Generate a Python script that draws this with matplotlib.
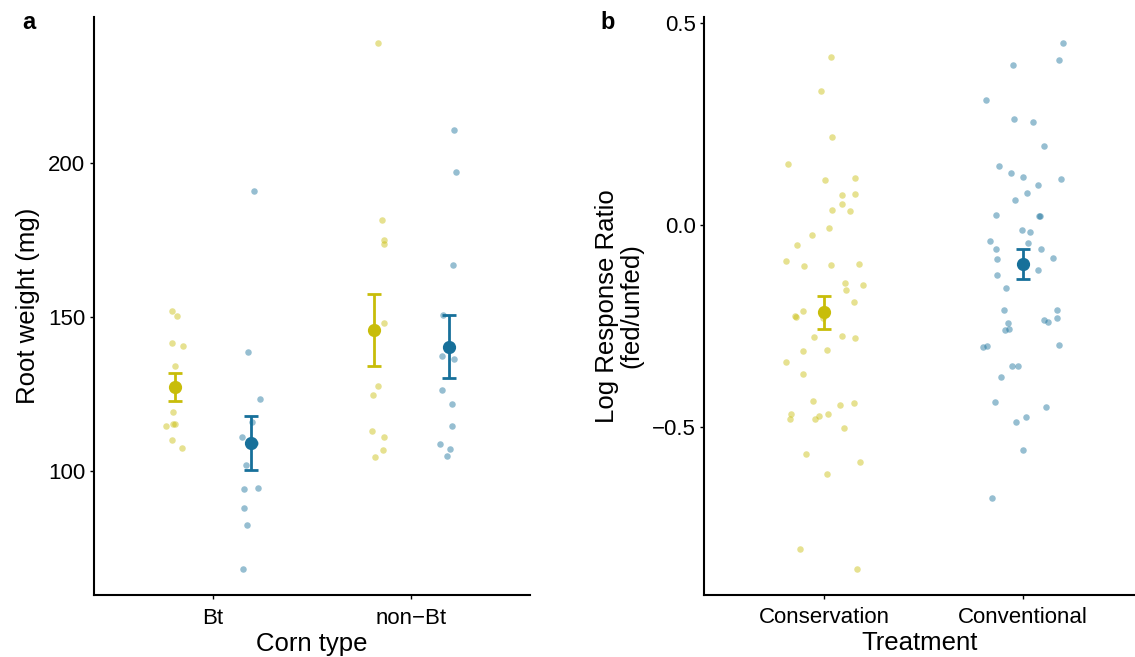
import numpy as np
import matplotlib.pyplot as plt

plt.rcParams['font.family'] = ['Liberation Sans', 'DejaVu Sans']

YEL = '#C8BD0A'
BLU = '#17709A'

# panel a: root weight (mg) by corn type, two groups dodged
corn_types = ['Bt', 'non\u2212Bt']
a_yel_bt = [151.9, 150.2, 141.6, 140.6, 134.3, 119.4, 114.6, 115.3, 115.4, 110.2, 107.6]
a_yel_bt_dx = [-0.205, -0.183, -0.207, -0.148, -0.192, -0.203, -0.237, -0.202, -0.192, -0.207, -0.154]
a_blu_bt = [190.8, 138.8, 123.4, 116.0, 111.0, 109.2, 102.1, 94.3, 94.6, 88.3, 82.7, 68.4]
a_blu_bt_dx = [0.205, 0.178, 0.235, 0.195, 0.145, 0.212, 0.165, 0.156, 0.225, 0.156, 0.171, 0.151]
a_yel_non = [238.6, 181.4, 174.8, 173.7, 148.0, 127.8, 124.7, 113.2, 111.2, 106.9, 104.7]
a_yel_non_dx = [-0.168, -0.150, -0.136, -0.136, -0.140, -0.166, -0.194, -0.200, -0.136, -0.143, -0.183]
a_blu_non = [210.5, 196.8, 166.9, 150.7, 137.4, 136.4, 126.5, 121.9, 114.6, 109.0, 107.2, 104.9]
a_blu_non_dx = [0.217, 0.227, 0.208, 0.160, 0.155, 0.217, 0.152, 0.207, 0.207, 0.145, 0.192, 0.177]
a_yel_mean = [127.4, 145.9]
a_yel_se = [4.5, 11.6]
a_blu_mean = [109.2, 140.3]
a_blu_se = [8.6, 10.2]

# panel b: log response ratio by treatment
treatments = ['Conservation', 'Conventional']
b_cons = [0.415, 0.332, 0.219, 0.151, 0.111, 0.117, 0.074, 0.077, 0.053, 0.037, 0.035,
          -0.007, -0.026, -0.050, -0.089, -0.103, -0.099, -0.097, -0.144, -0.148, -0.161,
          -0.191, -0.213, -0.225, -0.228, -0.231, -0.278, -0.275, -0.279, -0.313, -0.309,
          -0.339, -0.370, -0.436, -0.446, -0.441, -0.469, -0.480, -0.474, -0.482, -0.469,
          -0.502, -0.567, -0.588, -0.618, -0.802, -0.852]
b_cons_dx = [0.037, -0.015, 0.042, -0.180, 0.007, 0.156, 0.091, 0.155, 0.091, 0.042, 0.129,
             0.024, -0.059, -0.136, -0.191, -0.099, 0.035, 0.176, 0.106, 0.195, 0.111,
             0.152, -0.104, -0.144, -0.141, -0.004, -0.049, 0.091, 0.158, -0.104, 0.017,
             -0.190, -0.106, -0.057, 0.081, 0.152, -0.168, -0.170, -0.027, -0.044, 0.020,
             0.102, -0.091, 0.180, 0.017, -0.121, 0.166]
b_conv = [0.450, 0.408, 0.396, 0.309, 0.262, 0.254, 0.196, 0.145, 0.129, 0.119, 0.115,
          0.100, 0.078, 0.061, 0.025, 0.021, 0.021, -0.013, -0.018, -0.040, -0.044,
          -0.060, -0.059, -0.085, -0.082, -0.097, -0.111, -0.123, -0.157, -0.210, -0.211,
          -0.242, -0.236, -0.240, -0.231, -0.260, -0.257, -0.303, -0.300, -0.297, -0.350,
          -0.350, -0.376, -0.438, -0.450, -0.477, -0.489, -0.558, -0.676]
b_conv_dx = [0.201, 0.183, -0.050, -0.186, -0.045, 0.053, 0.109, -0.118, -0.057, 0.002, 0.191,
             0.077, 0.022, -0.037, -0.134, 0.081, 0.087, -0.002, 0.035, -0.165, 0.025,
             -0.133, 0.091, -0.131, 0.154, -0.009, 0.079, -0.129, -0.084, -0.094, 0.173,
             -0.074, 0.107, 0.126, 0.171, -0.087, -0.070, -0.198, -0.180, 0.184, -0.052,
             -0.025, -0.111, -0.139, 0.117, 0.015, -0.035, 0.000, -0.155]
b_mean = [-0.217, -0.097]
b_se = [0.041, 0.038]

fig = plt.figure(figsize=(11.35, 6.57), dpi=100)
ax1 = fig.add_axes([0.0826, 0.0939, 0.3848, 0.880])
ax2 = fig.add_axes([0.6203, 0.0944, 0.3797, 0.8796])

pt = dict(s=22, alpha=0.45, linewidths=0, zorder=2)
dodge = 0.19


def summary(ax, x, m, se, col):
    ax.errorbar(x, m, yerr=se, fmt='o', color=col, ms=8.5, elinewidth=2,
                capsize=5, capthick=2, zorder=3)


x1 = np.arange(1, 3)
ax1.scatter(1 + np.array(a_yel_bt_dx), a_yel_bt, color=YEL, **pt)
ax1.scatter(1 + np.array(a_blu_bt_dx), a_blu_bt, color=BLU, **pt)
ax1.scatter(2 + np.array(a_yel_non_dx), a_yel_non, color=YEL, **pt)
ax1.scatter(2 + np.array(a_blu_non_dx), a_blu_non, color=BLU, **pt)
summary(ax1, x1 - dodge, a_yel_mean, a_yel_se, YEL)
summary(ax1, x1 + dodge, a_blu_mean, a_blu_se, BLU)
ax1.set_xlim(0.4, 2.6)
ax1.set_ylim(59.9, 247.1)
ax1.set_yticks([100, 150, 200])
ax1.set_xticks(x1)
ax1.set_xticklabels(corn_types)
ax1.set_xlabel('Corn type', fontsize=18.5, labelpad=2)
ax1.set_ylabel('Root weight (mg)', fontsize=18.5, labelpad=6)

x2 = np.arange(1, 3)
ax2.scatter(1 + np.array(b_cons_dx), b_cons, color=YEL, **pt)
ax2.scatter(2 + np.array(b_conv_dx), b_conv, color=BLU, **pt)
summary(ax2, [1], [b_mean[0]], [b_se[0]], YEL)
summary(ax2, [2], [b_mean[1]], [b_se[1]], BLU)
ax2.set_xlim(0.396, 2.565)
ax2.set_ylim(-0.917, 0.515)
ax2.set_yticks([-0.5, 0.0, 0.5])
ax2.set_yticklabels(['\u22120.5', '0.0', '0.5'])
ax2.set_xticks(x2)
ax2.set_xticklabels(treatments)
ax2.set_xlabel('Treatment', fontsize=18.5, labelpad=2)
ax2.set_ylabel('Log Response Ratio\n(fed/unfed)', fontsize=18.5, labelpad=6,
               linespacing=1.0)

for ax in (ax1, ax2):
    for s in ('top', 'right'):
        ax.spines[s].set_visible(False)
    for s in ('left', 'bottom'):
        ax.spines[s].set_linewidth(1.5)
    ax.tick_params(labelsize=16, length=3, width=1, pad=3, colors='black')
    ax.tick_params(axis='x', pad=6)

fig.text(0.020, 0.965, 'a', fontsize=17, fontweight='bold', ha='left', va='center')
fig.text(0.529, 0.965, 'b', fontsize=17, fontweight='bold', ha='left', va='center')

fig.savefig('out.png', dpi=100)
